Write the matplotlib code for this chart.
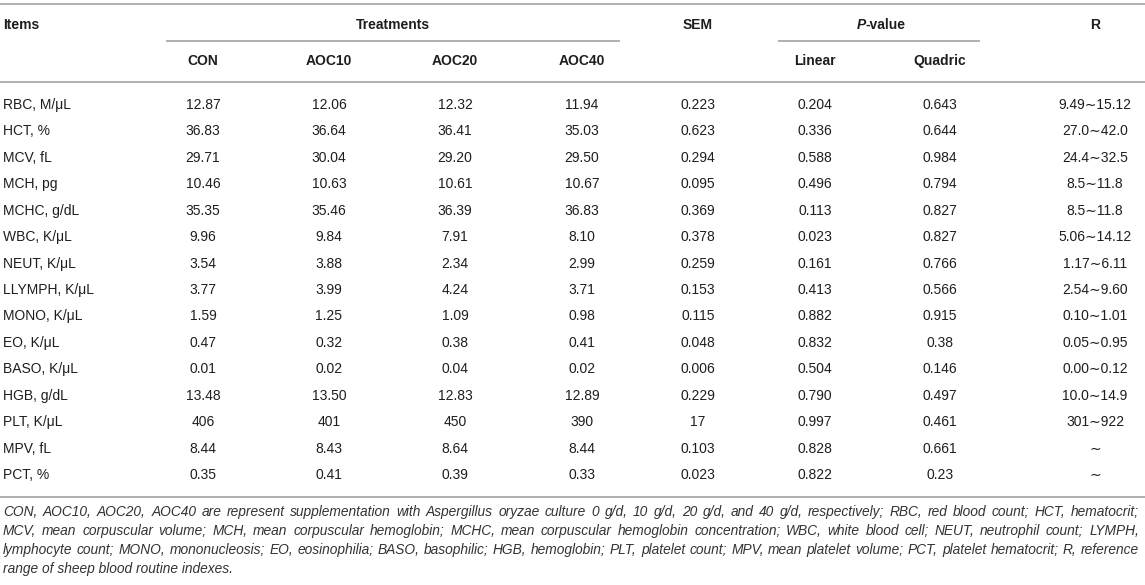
import matplotlib.pyplot as plt

plt.rcParams['font.family'] = ['Liberation Sans', 'DejaVu Sans']

items = ["RBC, M/\u03bcL", "HCT, %", "MCV, fL", "MCH, pg", "MCHC, g/dL", "WBC, K/\u03bcL",
         "NEUT, K/\u03bcL", "LLYMPH, K/\u03bcL", "MONO, K/\u03bcL", "EO, K/\u03bcL", "BASO, K/\u03bcL",
         "HGB, g/dL", "PLT, K/\u03bcL", "MPV, fL", "PCT, %"]
con = ["12.87", "36.83", "29.71", "10.46", "35.35", "9.96", "3.54", "3.77", "1.59", "0.47", "0.01",
       "13.48", "406", "8.44", "0.35"]
aoc10 = ["12.06", "36.64", "30.04", "10.63", "35.46", "9.84", "3.88", "3.99", "1.25", "0.32", "0.02",
         "13.50", "401", "8.43", "0.41"]
aoc20 = ["12.32", "36.41", "29.20", "10.61", "36.39", "7.91", "2.34", "4.24", "1.09", "0.38", "0.04",
         "12.83", "450", "8.64", "0.39"]
aoc40 = ["11.94", "35.03", "29.50", "10.67", "36.83", "8.10", "2.99", "3.71", "0.98", "0.41", "0.02",
         "12.89", "390", "8.44", "0.33"]
sem = ["0.223", "0.623", "0.294", "0.095", "0.369", "0.378", "0.259", "0.153", "0.115", "0.048", "0.006",
       "0.229", "17", "0.103", "0.023"]
linear = ["0.204", "0.336", "0.588", "0.496", "0.113", "0.023", "0.161", "0.413", "0.882", "0.832", "0.504",
          "0.790", "0.997", "0.828", "0.822"]
quadric = ["0.643", "0.644", "0.984", "0.794", "0.827", "0.827", "0.766", "0.566", "0.915", "0.38", "0.146",
           "0.497", "0.461", "0.661", "0.23"]
ref_range = ["9.49\u223c15.12", "27.0\u223c42.0", "24.4\u223c32.5", "8.5\u223c11.8", "8.5\u223c11.8",
             "5.06\u223c14.12", "1.17\u223c6.11", "2.54\u223c9.60", "0.10\u223c1.01", "0.05\u223c0.95",
             "0.00\u223c0.12", "10.0\u223c14.9", "301\u223c922", "\u223c", "\u223c"]
groups = ["CON", "AOC10", "AOC20", "AOC40"]
footnote = [
    "CON, AOC10, AOC20, AOC40 are represent supplementation with Aspergillus oryzae culture 0 g/d, 10 g/d, 20 g/d, and 40 g/d, respectively; RBC, red blood count; HCT, hematocrit;",
    "MCV, mean corpuscular volume; MCH, mean corpuscular hemoglobin; MCHC, mean corpuscular hemoglobin concentration; WBC, white blood cell; NEUT, neutrophil count; LYMPH,",
    "lymphocyte count; MONO, mononucleosis; EO, eosinophilia; BASO, basophilic; HGB, hemoglobin; PLT, platelet count; MPV, mean platelet volume; PCT, platelet hematocrit; R, reference",
    "range of sheep blood routine indexes.",
]

W, H = 1145, 585
fig = plt.figure(figsize=(W / 100, H / 100), dpi=100)
ax = fig.add_axes([0, 0, 1, 1])
ax.set_xlim(0, W)
ax.set_ylim(H, 0)
ax.axis('off')

txt = '#1e1e1e'
line_c = '#b0b0b0'
fs = 10

def hline(x0, x1, y):
    ax.plot([x0, x1], [y, y], color=line_c, lw=1.4, solid_capstyle='butt')

hline(0, W, 4)
hline(166, 620, 41)
hline(778, 980, 41)
hline(0, W, 82)
hline(0, W, 497)

# header
ax.text(3, 25, "Items", ha='left', va='center', fontsize=fs, fontweight='bold', color=txt)
ax.text(393, 25, "Treatments", ha='center', va='center', fontsize=fs, fontweight='bold', color=txt)
ax.text(698, 25, "SEM", ha='center', va='center', fontsize=fs, fontweight='bold', color=txt)
ax.text(866, 25, "P", ha='right', va='center', fontsize=fs, fontweight='bold', style='italic', color=txt)
ax.text(866, 25, "-value", ha='left', va='center', fontsize=fs, fontweight='bold', color=txt)
ax.text(1095, 25, "R", ha='center', va='center', fontsize=fs, fontweight='bold', color=txt)

col_x = [203, 329, 455, 582, 698, 815, 940, 1095]
for x, g in zip(col_x[:4], groups):
    ax.text(x, 61, g, ha='center', va='center', fontsize=fs, fontweight='bold', color=txt)
ax.text(col_x[5], 61, "Linear", ha='center', va='center', fontsize=fs, fontweight='bold', color=txt)
ax.text(col_x[6], 61, "Quadric", ha='center', va='center', fontsize=fs, fontweight='bold', color=txt)

# body
y0, dy = 105, 26.43
cols = [con, aoc10, aoc20, aoc40, sem, linear, quadric, ref_range]
for i, name in enumerate(items):
    y = y0 + i * dy
    ax.text(3, y, name, ha='left', va='center', fontsize=fs, color=txt)
    for x, col in zip(col_x, cols):
        ax.text(x, y, col[i], ha='center', va='center', fontsize=fs, color=txt)

# footnote, justified like the source
fig.canvas.draw()
renderer = fig.canvas.get_renderer()
left, right = 3, 1139
for j, line in enumerate(footnote):
    y = 512 + j * 19
    kw = dict(ha='left', va='center', fontsize=9.9, style='italic', color='#333333')
    if j == len(footnote) - 1:
        ax.text(left, y, line, **kw)
        continue
    words = line.split(' ')
    objs = [ax.text(0, y, w, **kw) for w in words]
    widths = [o.get_window_extent(renderer).width for o in objs]
    gap = (right - left - sum(widths)) / (len(words) - 1)
    x = left
    for o, w in zip(objs, widths):
        o.set_x(x)
        x += w + gap

fig.savefig('out.png', dpi=100)
